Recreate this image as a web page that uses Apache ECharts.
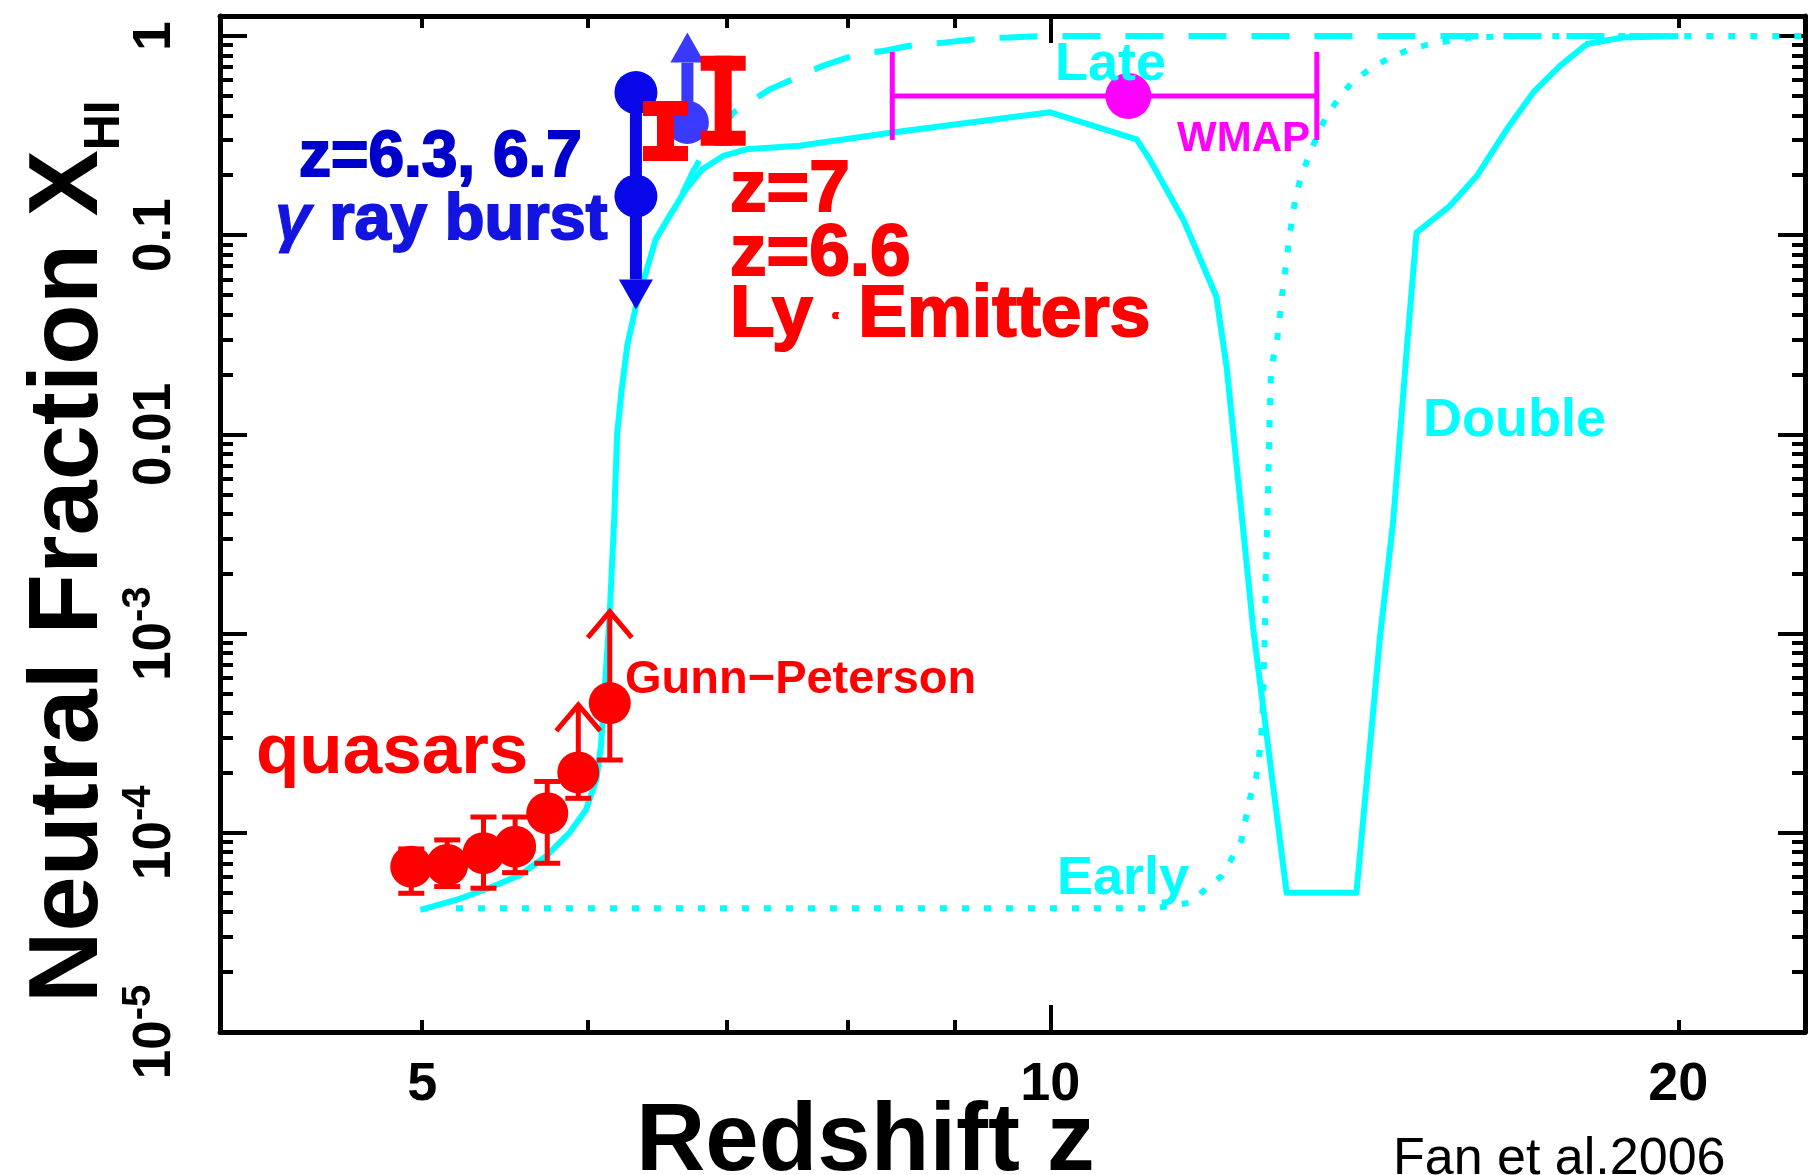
<!DOCTYPE html>
<html>
<head>
<meta charset="utf-8">
<title>Neutral Fraction vs Redshift</title>
<script src="https://cdn.jsdelivr.net/npm/echarts@6.0.0/dist/echarts.min.js"></script>
<style>
  html, body { margin: 0; padding: 0; background: #fff; }
  #chart { width: 1808px; height: 1175px; }
</style>
</head>
<body>
<div id="chart"></div>
<script>
// reionization models
var doubleZ = [4.99, 5.19, 5.38, 5.57, 5.73, 5.88, 5.99, 6.06, 6.09, 6.12, 6.15, 6.18, 6.20, 6.23, 6.27, 6.33, 6.40, 6.47, 6.57, 6.69, 6.81, 6.97, 7.15, 7.58, 8.40, 10.0, 11.0, 11.16, 11.58, 12.01, 12.15, 12.51, 12.98, 14.02, 14.39, 14.60, 14.82, 14.98, 15.54, 16.01, 16.55, 17.04, 17.55, 18.08, 18.82, 20.0];
var doubleX = [4.1e-5, 4.6e-5, 5.27e-5, 6.14e-5, 7.6e-5, 9.95e-5, 1.30e-4, 1.85e-4, 2.71e-4, 5.86e-4, 1.27e-3, 3.78e-3, 0.0100, 0.0165, 0.028, 0.044, 0.0649, 0.0953, 0.125, 0.170, 0.214, 0.250, 0.270, 0.281, 0.328, 0.414, 0.303, 0.240, 0.120, 0.0494, 0.0216, 1.06e-3, 5.0e-5, 5.0e-5, 9.7e-4, 3.67e-3, 0.0267, 0.103, 0.140, 0.198, 0.340, 0.521, 0.708, 0.912, 0.984, 1.0];

var earlyZ = [5.19, 11.22, 11.67, 11.87, 12.08, 12.22, 12.35, 12.46, 12.55, 12.62, 12.65, 12.67, 12.69, 12.72, 12.74, 12.76, 12.84, 12.93, 13.03, 13.12, 13.22, 13.32, 13.56, 13.76, 13.97, 14.23, 14.55, 14.87, 15.20, 15.89, 16.73, 23.0];
var earlyX = [4.18e-5, 4.18e-5, 4.46e-5, 5.22e-5, 6.07e-5, 7.48e-5, 9.23e-5, 1.47e-4, 1.89e-4, 2.94e-4, 5.0e-4, 9.7e-4, 2.36e-3, 5.73e-3, 0.0127, 0.0216, 0.0288, 0.0556, 0.103, 0.164, 0.210, 0.260, 0.397, 0.491, 0.596, 0.682, 0.780, 0.859, 0.910, 0.984, 1.0, 1.0];

var lateZ = [6.66, 6.75, 6.83, 7.05, 7.15, 7.34, 7.62, 7.78, 8.08, 8.33, 8.56, 8.91, 9.27, 9.55, 9.9, 20.0];
var lateX = [0.16, 0.214, 0.265, 0.413, 0.455, 0.541, 0.644, 0.708, 0.811, 0.843, 0.893, 0.929, 0.973, 0.984, 1.0, 1.0];

// quasar Gunn-Peterson measurements (last two are lower limits)
var qsoZ = [4.94, 5.14, 5.35, 5.54, 5.74, 5.94, 6.15];
var qsoX = [6.76e-5, 6.9e-5, 7.9e-5, 8.52e-5, 1.255e-4, 2.01e-4, 4.48e-4];
var qsoLow = [4.97e-5, 5.37e-5, 5.27e-5, 6.31e-5, 7.03e-5, 1.49e-4, 2.32e-4];
var qsoHigh = [8.3e-5, 9.21e-5, 1.2e-4, 1.2e-4, 1.81e-4, null, null];
var qsoLimit = [null, null, null, null, null, 4.39e-4, 1.29e-3];

// gamma ray burst points and limit arrows
var grbZ = [6.33, 6.33, 6.7];
var grbX = [0.52, 0.157, 0.368];
var grbArrowZ = [6.33, 6.7];
var grbArrowFrom = [0.52, 0.368];
var grbArrowTo = [0.0424, 1.04];

// Ly-alpha emitter ranges
var laeZ = [6.54, 6.97];
var laeLow = [0.236, 0.281];
var laeHigh = [0.472, 0.795];

// WMAP
var wmapZ = [10.9];
var wmapX = [0.50];
var wmapZLow = [8.40];
var wmapZHigh = [13.42];

// axes
var zMin = 4, zMax = 23;
var xMin = 1e-5, xMax = 1.26;
var xLabelTicks = [5, 10, 20];
var xTickLabels = ['5', '10', '20'];
var xMajorTicks = [10];
var xMinorTicks = [5, 6, 7, 8, 9, 20];
var yMajorTicks = [1e-5, 1e-4, 1e-3, 0.01, 0.1, 1];
var yTickLabels = ['10{sup|-5}', '10{sup|-4}', '10{sup|-3}', '0.01', '0.1', '1'];
var yMinorTicks = [];
yMajorTicks.slice(0, -1).forEach(function (d) {
  for (var k = 2; k <= 9; k++) yMinorTicks.push(d * k);
});

var CYAN = '#00ffff', RED = '#ff0000', MAGENTA = '#ff00ff';
var FONT = '"Liberation Sans", Arial, Helvetica, sans-serif';

function pairs(a, b) {
  return a.map(function (v, i) { return [v, b[i]]; });
}

function pick(list, labels, v) {
  var best = 0, d = Infinity;
  for (var i = 0; i < list.length; i++) {
    var e = Math.abs(Math.log(v) - Math.log(list[i]));
    if (e < d) { d = e; best = i; }
  }
  return labels[best];
}

function axis(position, lo, hi, ticks, tickLen, showLine, label) {
  return {
    type: 'log',
    logBase: 10,
    position: position,
    min: lo,
    max: hi,
    axisLine: { show: showLine, onZero: false, lineStyle: { color: '#000', width: 5 } },
    axisTick: { show: true, inside: true, length: tickLen, customValues: ticks, lineStyle: { color: '#000', width: 4 } },
    axisLabel: label || { show: false },
    splitLine: { show: false },
    minorTick: { show: false },
    minorSplitLine: { show: false }
  };
}

var xLabel = {
  show: true,
  customValues: xLabelTicks,
  margin: 26,
  color: '#000',
  fontFamily: FONT,
  fontWeight: 'bold',
  fontSize: 54,
  formatter: function (v) { return pick(xLabelTicks, xTickLabels, v); }
};

var yLabel = {
  show: true,
  customValues: yMajorTicks,
  rotate: 90,
  margin: 29,
  color: '#000',
  fontFamily: FONT,
  fontWeight: 'bold',
  fontSize: 53,
  lineHeight: 72,
  formatter: function (v) { return pick(yMajorTicks, yTickLabels, v); },
  rich: {
    sup: {
      color: '#000', fontFamily: FONT, fontWeight: 'bold', fontSize: 40,
      lineHeight: 40, padding: [0, 0, 32, 0], verticalAlign: 'top'
    }
  }
};

function qsoBars(params, api) {
  var z = api.value(0);
  var c = api.coord([z, api.value(1)]);
  var lo = api.coord([z, api.value(2)]);
  var hi = api.value(3), lim = api.value(4);
  var st = { stroke: RED, lineWidth: 5 };
  var kids = [];
  var topY = c[1];
  if (hi > 0) {
    var h = api.coord([z, hi]);
    topY = h[1];
    kids.push({ type: 'line', shape: { x1: h[0] - 13, y1: h[1], x2: h[0] + 13, y2: h[1] }, style: st });
  }
  kids.push({ type: 'line', shape: { x1: c[0], y1: topY, x2: lo[0], y2: lo[1] }, style: st });
  kids.push({ type: 'line', shape: { x1: lo[0] - 13, y1: lo[1], x2: lo[0] + 13, y2: lo[1] }, style: st });
  if (lim > 0) {
    var t = api.coord([z, lim]);
    kids.push({ type: 'line', shape: { x1: c[0], y1: c[1], x2: t[0], y2: t[1] }, style: st });
    kids.push({ type: 'polyline', shape: { points: [[t[0] - 22, t[1] + 26], [t[0], t[1]], [t[0] + 22, t[1] + 26]] }, style: { stroke: RED, lineWidth: 5, fill: null } });
  }
  return { type: 'group', children: kids };
}

var grbColors = ['#0808e8', '#3a3aff'];

function grbArrows(params, api) {
  var z = api.value(0);
  var s = api.coord([z, api.value(1)]);
  var t = api.coord([z, api.value(2)]);
  var col = grbColors[params.dataIndex];
  var dir = t[1] > s[1] ? 1 : -1;
  var baseY = t[1] - dir * 30;
  return {
    type: 'group',
    children: [
      { type: 'line', shape: { x1: s[0], y1: s[1], x2: s[0], y2: baseY }, style: { stroke: col, lineWidth: 12 } },
      { type: 'polygon', shape: { points: [[t[0] - 17, baseY], [t[0] + 17, baseY], [t[0], t[1]]] }, style: { fill: col } }
    ]
  };
}

function laeBars(params, api) {
  var z = api.value(0);
  var b = api.coord([z, api.value(1)]);
  var h = api.coord([z, api.value(2)]);
  var st = { fill: RED };
  return {
    type: 'group',
    children: [
      { type: 'rect', shape: { x: h[0] - 8.5, y: h[1], width: 17, height: b[1] - h[1] }, style: st },
      { type: 'rect', shape: { x: h[0] - 22.5, y: h[1], width: 45, height: 15 }, style: st },
      { type: 'rect', shape: { x: b[0] - 22.5, y: b[1] - 15, width: 45, height: 15 }, style: st }
    ]
  };
}

function wmapBar(params, api) {
  var c = api.coord([api.value(0), api.value(1)]);
  var l = api.coord([api.value(2), api.value(1)]);
  var r = api.coord([api.value(3), api.value(1)]);
  var st = { stroke: MAGENTA, lineWidth: 5 };
  return {
    type: 'group',
    children: [
      { type: 'line', shape: { x1: l[0], y1: c[1], x2: r[0], y2: c[1] }, style: st },
      { type: 'line', shape: { x1: l[0], y1: c[1] - 44, x2: l[0], y2: c[1] + 44 }, style: st },
      { type: 'line', shape: { x1: r[0], y1: c[1] - 44, x2: r[0], y2: c[1] + 44 }, style: st }
    ]
  };
}

function text(str, x, y, size, color, extra) {
  var style = {
    text: str, x: 0, y: 0, fill: color, fontFamily: FONT, fontSize: size,
    fontWeight: 'bold', align: 'left', verticalAlign: 'middle'
  };
  var el = { type: 'text', x: x, y: y, z: 50, silent: true, style: style };
  if (extra) {
    for (var k in extra) {
      if (k === 'rotation') el.rotation = extra[k];
      else style[k] = extra[k];
    }
  }
  return el;
}

var chart = echarts.init(document.getElementById('chart'));

var option = {
  animation: false,
  backgroundColor: '#fff',
  grid: { left: 220, right: 3, top: 16, bottom: 143 },
  xAxis: [
    axis('bottom', zMin, zMax, xMajorTicks, 27, true, xLabel),
    axis('bottom', zMin, zMax, xMinorTicks, 12, false),
    axis('top', zMin, zMax, xMajorTicks, 27, true),
    axis('top', zMin, zMax, xMinorTicks, 12, false)
  ],
  yAxis: [
    axis('left', xMin, xMax, yMajorTicks, 27, true, yLabel),
    axis('left', xMin, xMax, yMinorTicks, 13, false),
    axis('right', xMin, xMax, yMajorTicks, 27, true),
    axis('right', xMin, xMax, yMinorTicks, 13, false)
  ],
  series: [
    {
      name: 'Early', type: 'line', data: pairs(earlyZ, earlyX), symbol: 'none', z: 2, silent: true,
      lineStyle: { color: CYAN, width: 6, type: [7, 15] }
    },
    {
      name: 'Late', type: 'line', data: pairs(lateZ, lateX), symbol: 'none', z: 2, silent: true,
      lineStyle: { color: CYAN, width: 6, type: [38, 25] }
    },
    {
      name: 'Double', type: 'line', data: pairs(doubleZ, doubleX), symbol: 'none', z: 3, silent: true,
      lineStyle: { color: CYAN, width: 6, type: 'solid', join: 'round' }
    },
    {
      name: 'quasar bars', type: 'custom', z: 4, silent: true,
      data: qsoZ.map(function (z, i) { return [z, qsoX[i], qsoLow[i], qsoHigh[i] || 0, qsoLimit[i] || 0]; }),
      encode: { x: 0, y: 1 },
      renderItem: qsoBars
    },
    {
      name: 'quasars', type: 'scatter', z: 5, silent: true, symbolSize: 42,
      data: pairs(qsoZ, qsoX), itemStyle: { color: RED, opacity: 1 }
    },
    {
      name: 'GRB arrows', type: 'custom', z: 5, silent: true,
      data: grbArrowZ.map(function (z, i) { return [z, grbArrowFrom[i], grbArrowTo[i]]; }),
      encode: { x: 0, y: 1 },
      renderItem: grbArrows
    },
    {
      name: 'GRB', type: 'scatter', z: 5, silent: true, symbolSize: 43,
      data: pairs(grbZ, grbX),
      itemStyle: { opacity: 1, color: function (p) { return p.dataIndex < 2 ? grbColors[0] : grbColors[1]; } }
    },
    {
      name: 'Lya emitters', type: 'custom', z: 6, silent: true,
      data: laeZ.map(function (z, i) { return [z, laeLow[i], laeHigh[i]]; }),
      encode: { x: 0, y: 1 },
      renderItem: laeBars
    },
    {
      name: 'WMAP bar', type: 'custom', z: 4, silent: true,
      data: wmapZ.map(function (z, i) { return [z, wmapX[i], wmapZLow[i], wmapZHigh[i]]; }),
      encode: { x: 0, y: 1 },
      renderItem: wmapBar
    },
    {
      name: 'WMAP', type: 'scatter', z: 5, silent: true, symbolSize: 46,
      data: pairs(wmapZ, wmapX), itemStyle: { color: MAGENTA, opacity: 1 }
    }
  ],
  graphic: [
    text('Neutral Fraction X{sub|HI}', 70, 1003, 99, '#000', {
      rotation: Math.PI / 2,
      rich: {
        sub: { fill: '#000', fontFamily: FONT, fontWeight: 'bold', fontSize: 50, lineHeight: 48, padding: [60, 0, 0, 0], verticalAlign: 'top' }
      }
    }),
    text('Redshift z', 636, 1144, 96, '#000'),
    text('Fan et al.2006', 1393, 1160, 52, '#000', { fontWeight: 'normal' }),
    text('z=6.3, 6.7', 299, 158, 64, '#0000cc', { stroke: '#0000cc', lineWidth: 2 }),
    text('{g|γ} ray burst', 275, 221, 65, '#1414e0', {
      stroke: '#1414e0', lineWidth: 2,
      rich: { g: { fill: '#1414e0', stroke: '#1414e0', lineWidth: 1, fontFamily: FONT, fontStyle: 'italic', fontWeight: 'bold', fontSize: 65 } }
    }),
    text('z=7', 730, 191, 73, RED, { stroke: RED, lineWidth: 2 }),
    text('z=6.6', 730, 255, 73, RED, { stroke: RED, lineWidth: 2 }),
    text('Ly {a|α} Emitters', 730, 316, 73, RED, {
      stroke: RED, lineWidth: 2,
      rich: { a: { fill: RED, fontFamily: FONT, fontSize: 9 } }
    }),
    text('quasars', 256, 753, 71, RED),
    text('Gunn\u2212Peterson', 625, 680, 47, RED),
    text('Late', 1055, 65, 54, CYAN),
    text('WMAP', 1177, 139, 42, MAGENTA),
    text('Early', 1057, 879, 54, CYAN),
    text('Double', 1423, 421, 54, CYAN)
  ]
};

chart.setOption(option);
</script>
</body>
</html>
